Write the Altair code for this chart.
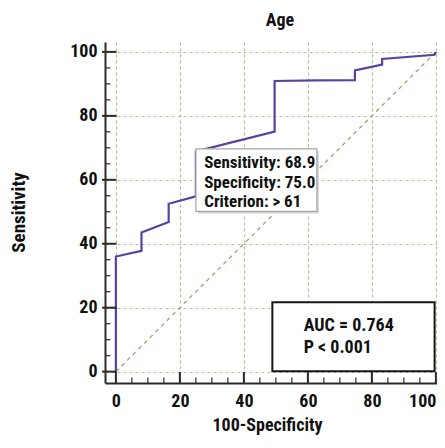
import altair as alt
import pandas as pd

# ROC curve (100-Specificity, Sensitivity)
fpr = [0, 0, 8.0, 8.0, 16.5, 16.5, 25.0, 25.0, 49.6, 49.6, 62.7, 74.7, 74.7, 83.2, 83.2, 99.6, 100]
tpr = [0, 36.0, 37.8, 43.5, 46.8, 52.5, 54.8, 68.9, 75.1, 90.9, 91.1, 91.2, 94.2, 96.0, 97.8, 99.1, 100]

diag_x = [0, 100]
diag_y = [0, 100]

major_ticks = [0, 20, 40, 60, 80, 100]
minor_ticks = [v for v in range(5, 100, 5) if v % 20 != 0]

info_lines = ["Sensitivity: 68.9", "Specificity: 75.0", "Criterion: > 61"]
info_y = [65.2, 59.1, 53.2]
info_x = 27.6
info_box = {"x": 25.0, "x2": 62.8, "y": 69.7, "y2": 50.1}

auc_lines = ["AUC = 0.764", "P < 0.001"]
auc_y = [14.2, 7.5]
auc_x = 58.7
auc_box = {"x": 48.9, "x2": 99.6, "y": 21.7, "y2": 0.1}

FONT = "Roboto Condensed, Liberation Sans Narrow, DejaVu Sans Condensed, Liberation Sans, sans-serif"
W, H = 332, 341
XDOM = [-3.4, 100.35]
YDOM = [-3.55, 103.1]

xs = alt.Scale(domain=XDOM, nice=False, zero=False)
ys = alt.Scale(domain=YDOM, nice=False, zero=False)

grid_col = "#a9c693"

xaxis = alt.Axis(values=major_ticks, grid=True, gridColor=grid_col, gridDash=[3, 3], gridWidth=1.2,
                 domain=True, domainColor="#2b2b2b", domainWidth=2, ticks=False,
                 labelFont=FONT, labelFontSize=18, labelFontWeight="bold", labelColor="#111",
                 labelPadding=9, labelFlush=3, title="100-Specificity", titleFont=FONT, titleFontSize=18,
                 titleFontWeight="bold", titleColor="#111", titleX=162, titleY=42, titleBaseline="middle")
yaxis = alt.Axis(values=major_ticks, grid=True, gridColor=grid_col, gridDash=[3, 3], gridWidth=1.2,
                 domain=True, domainColor="#2b2b2b", domainWidth=2, ticks=False,
                 labelFont=FONT, labelFontSize=18, labelFontWeight="bold", labelColor="#111",
                 labelPadding=8, title="Sensitivity", titleFont=FONT, titleFontSize=19,
                 titleFontWeight="bold", titleColor="#111", titleX=-87, titleY=170,
                 titleBaseline="middle", titleAngle=270, titleAlign="center")

roc = pd.DataFrame({"fpr": fpr, "tpr": tpr, "i": list(range(len(fpr)))})
diag = pd.DataFrame({"x": diag_x, "y": diag_y})

base_axes = alt.Chart(roc).mark_line(opacity=0).encode(
    x=alt.X("fpr:Q", scale=xs, axis=xaxis),
    y=alt.Y("tpr:Q", scale=ys, axis=yaxis),
)

diag_line = alt.Chart(diag).mark_line(color="#c6925d", strokeDash=[4, 4], strokeWidth=1.3).encode(
    x=alt.X("x:Q", scale=xs), y=alt.Y("y:Q", scale=ys))

curve = alt.Chart(roc).mark_line(color="#5a42a0", strokeWidth=2.2, interpolate="linear").encode(
    x=alt.X("fpr:Q", scale=xs), y=alt.Y("tpr:Q", scale=ys), order="i:Q")

ib = pd.DataFrame([info_box])
ab = pd.DataFrame([auc_box])

info_shadow = alt.Chart(ib).mark_rect(fill="#d2d2d2", xOffset=2, x2Offset=2, yOffset=2, y2Offset=2).encode(
    x=alt.X("x:Q", scale=xs), x2="x2:Q", y=alt.Y("y:Q", scale=ys), y2="y2:Q")
info_rect = alt.Chart(ib).mark_rect(fill="white", stroke="#a5a5a5", strokeWidth=1.2).encode(
    x=alt.X("x:Q", scale=xs), x2="x2:Q", y=alt.Y("y:Q", scale=ys), y2="y2:Q")
auc_rect = alt.Chart(ab).mark_rect(fill="white", stroke="#161616", strokeWidth=2).encode(
    x=alt.X("x:Q", scale=xs), x2="x2:Q", y=alt.Y("y:Q", scale=ys), y2="y2:Q")

info_df = pd.DataFrame({"t": info_lines, "y": info_y, "x": [info_x] * len(info_lines)})
auc_df = pd.DataFrame({"t": auc_lines, "y": auc_y, "x": [auc_x] * len(auc_lines)})

info_text = alt.Chart(info_df).mark_text(align="left", baseline="middle", font=FONT, fontSize=17,
                                         fontWeight="bold", color="#111").encode(
    x=alt.X("x:Q", scale=xs), y=alt.Y("y:Q", scale=ys), text="t:N")
auc_text = alt.Chart(auc_df).mark_text(align="left", baseline="middle", font=FONT, fontSize=18,
                                       fontWeight="bold", color="#111").encode(
    x=alt.X("x:Q", scale=xs), y=alt.Y("y:Q", scale=ys), text="t:N")

title_df = pd.DataFrame({"t": ["Age"]})
title_text = alt.Chart(title_df).mark_text(align="center", baseline="alphabetic", font=FONT, fontSize=18,
                                           fontWeight="bold", color="#111").encode(
    x=alt.value(175), y=alt.value(-16), text="t:N")

maj = pd.DataFrame({"v": major_ticks})
mino = pd.DataFrame({"v": minor_ticks})
tick_col = "#2b2b2b"
y_major = alt.Chart(maj).mark_rule(color=tick_col, strokeWidth=2).encode(
    y=alt.Y("v:Q", scale=ys), x=alt.value(-3), x2=alt.value(11.5))
y_minor = alt.Chart(mino).mark_rule(color=tick_col, strokeWidth=1.2).encode(
    y=alt.Y("v:Q", scale=ys), x=alt.value(0), x2=alt.value(5.5))
x_major = alt.Chart(maj).mark_rule(color=tick_col, strokeWidth=2).encode(
    x=alt.X("v:Q", scale=xs), y=alt.value(H), y2=alt.value(H - 11))
x_minor = alt.Chart(mino).mark_rule(color=tick_col, strokeWidth=1.2).encode(
    x=alt.X("v:Q", scale=xs), y=alt.value(H), y2=alt.value(H - 5.5))

chart = alt.layer(
    base_axes, diag_line, curve, info_shadow, info_rect, info_text, auc_rect, auc_text, title_text,
    y_major, y_minor, x_major, x_minor
).properties(
    width=W, height=H,
    autosize=alt.AutoSizeParams(type="none"),
    padding={"left": 97, "top": 34, "right": 0, "bottom": 52},
).configure_view(stroke=None)

chart.save("out.html", embed_options={"renderer": "svg", "actions": False})
